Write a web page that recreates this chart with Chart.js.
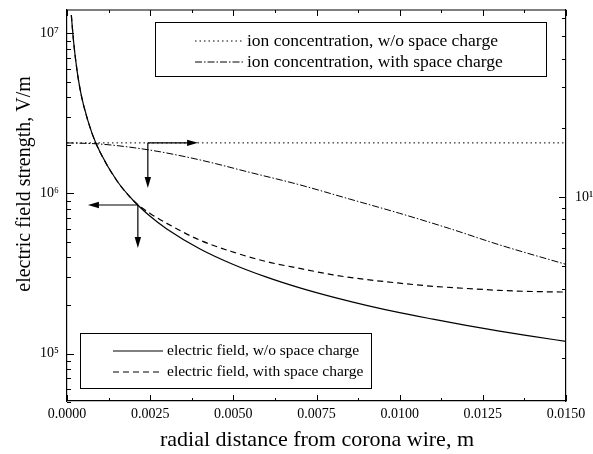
<!DOCTYPE html>
<html>
<head>
<meta charset="utf-8">
<script src="https://cdn.jsdelivr.net/npm/chart.js@4/dist/chart.umd.min.js"></script>
<style>
    html, body { margin: 0; padding: 0; background: #fff; }
</style>
</head>
<body>
<canvas id="fieldChart" width="593" height="454"></canvas>
<script>
// radial distance (m) and electric field (V/m)
const distE = [0.00013, 0.0002, 0.0003, 0.0004, 0.0005, 0.00075, 0.001, 0.0015, 0.002, 0.0025, 0.003,
               0.004, 0.005, 0.006, 0.007, 0.008, 0.009, 0.010, 0.011, 0.012, 0.013, 0.014, 0.015];
const fieldNoSC = [1.3e7, 8.8e6, 5.9e6, 4.4e6, 3.55e6, 2.38e6, 1.8e6, 1.2e6, 9.0e5, 7.2e5, 6.0e5,
                   4.5e5, 3.6e5, 3.0e5, 2.57e5, 2.25e5, 2.0e5, 1.8e5, 1.64e5, 1.5e5, 1.38e5, 1.28e5, 1.19e5];
const fieldSC = [1.3e7, 8.8e6, 5.9e6, 4.4e6, 3.55e6, 2.38e6, 1.8e6, 1.2e6, 9.0e5, 7.5e5, 6.5e5,
                 5.1e5, 4.3e5, 3.75e5, 3.4e5, 3.1e5, 2.9e5, 2.75e5, 2.63e5, 2.55e5, 2.48e5, 2.44e5, 2.42e5];

// ion concentration (right axis)
const distIonFlat = [0, 0.015];
const ionNoSC = [17.2, 17.2];
const distIon = [0, 0.001, 0.0025, 0.004, 0.0055, 0.007, 0.0085, 0.010, 0.0115, 0.013, 0.015];
const ionSC = [17.2, 17.0, 16.0, 14.5, 12.8, 11.3, 9.8, 8.5, 7.3, 6.2, 5.1];

// tick values
const xTickVals = [0, 0.00125, 0.0025, 0.00375, 0.005, 0.00625, 0.0075, 0.00875, 0.010, 0.01125, 0.0125, 0.01375, 0.015];
const xTickLabels = ["0.0000", "", "0.0025", "", "0.0050", "", "0.0075", "", "0.0100", "", "0.0125", "", "0.0150"];
const leftTickVals = [5e4, 6e4, 7e4, 8e4, 9e4, 1e5, 2e5, 3e5, 4e5, 5e5, 6e5, 7e5, 8e5, 9e5,
                      1e6, 2e6, 3e6, 4e6, 5e6, 6e6, 7e6, 8e6, 9e6, 1e7];
const leftTickLabels = {1e5: "10\u2075", 1e6: "10\u2076", 1e7: "10\u2077"};
const rightTickVals = [2, 3, 4, 5, 6, 7, 8, 9, 10, 20, 30, 40, 50, 60];
const rightTickLabels = {10: "10\u00B9"};

// arrows: [x0, y0, x1, y1] in data units of x / left axis
const arrows = [
    [0.00243, 2.07e6, 0.00394, 2.07e6],
    [0.00243, 2.07e6, 0.00243, 1.08e6],
    [0.00213, 8.47e5, 0.00063, 8.47e5],
    [0.00213, 8.47e5, 0.00213, 4.56e5]
];

const SERIF = "'Liberation Serif', 'Times New Roman', serif";
const pts = (xs, ys) => xs.map((x, i) => ({x, y: ys[i]}));

const line = (ctx, x0, y0, x1, y1) => {
    ctx.beginPath(); ctx.moveTo(x0, y0); ctx.lineTo(x1, y1); ctx.stroke();
};

function drawArrow(ctx, x0, y0, x1, y1) {
    const ang = Math.atan2(y1 - y0, x1 - x0);
    const L = 11, W = 3.2;
    const bx = x1 - L * Math.cos(ang), by = y1 - L * Math.sin(ang);
    line(ctx, x0, y0, bx, by);
    ctx.beginPath();
    ctx.moveTo(x1, y1);
    ctx.lineTo(bx - W * Math.sin(ang), by + W * Math.cos(ang));
    ctx.lineTo(bx + W * Math.sin(ang), by - W * Math.cos(ang));
    ctx.closePath();
    ctx.fill();
}

function legendBox(chart, box, fontSize, rows) {
    const ctx = chart.ctx;
    ctx.lineWidth = 1;
    ctx.setLineDash([]);
    ctx.strokeRect(box.x + 0.5, box.y + 0.5, box.w, box.h);
    ctx.font = `${fontSize}px ${SERIF}`;
    ctx.textBaseline = 'middle';
    ctx.textAlign = 'left';
    rows.forEach(r => {
        const ds = chart.data.datasets[r.ds];
        ctx.save();
        ctx.lineWidth = ds.borderWidth;
        ctx.setLineDash(ds.borderDash || []);
        line(ctx, r.x0, r.y, r.x1, r.y);
        ctx.restore();
        ctx.fillText(ds.label, r.x1 + 4, r.y);
    });
}

const noPad = s => { s.paddingTop = 0; s.paddingBottom = 0; s.paddingLeft = 0; s.paddingRight = 0; };

const decorations = {
    id: 'decorations',
    afterDraw(chart) {
        const {ctx, chartArea: a, scales} = chart;
        ctx.save();
        ctx.strokeStyle = '#000';
        ctx.fillStyle = '#000';
        ctx.lineWidth = 1.2;
        // top frame line
        line(ctx, a.left, a.top, a.right, a.top);

        // inward ticks
        ctx.lineWidth = 1;
        scales.x.ticks.forEach(t => {
            const px = Math.round(scales.x.getPixelForValue(t.value)) + 0.5;
            const len = t.label ? 6 : 3;
            line(ctx, px, a.bottom, px, a.bottom - len);
            line(ctx, px, a.top, px, a.top + len);
        });
        scales.y.ticks.forEach(t => {
            const py = Math.round(scales.y.getPixelForValue(t.value)) + 0.5;
            line(ctx, a.left, py, a.left + (t.label ? 7 : 4), py);
        });
        scales.y1.ticks.forEach(t => {
            const py = Math.round(scales.y1.getPixelForValue(t.value)) + 0.5;
            line(ctx, a.right, py, a.right - (t.label ? 7 : 4), py);
        });

        // arrows
        ctx.lineWidth = 1.2;
        arrows.forEach(([x0, y0, x1, y1]) => drawArrow(ctx,
            scales.x.getPixelForValue(x0), scales.y.getPixelForValue(y0),
            scales.x.getPixelForValue(x1), scales.y.getPixelForValue(y1)));

        // legends
        legendBox(chart, {x: 155, y: 22, w: 391, h: 54}, 17.5, [
            {ds: 2, x0: 195, x1: 243, y: 41},
            {ds: 3, x0: 195, x1: 243, y: 62}
        ]);
        legendBox(chart, {x: 80, y: 333, w: 291, h: 55}, 15.5, [
            {ds: 0, x0: 113, x1: 163, y: 351},
            {ds: 1, x0: 113, x1: 163, y: 372}
        ]);

        // axis titles
        ctx.textAlign = 'center';
        ctx.textBaseline = 'middle';
        ctx.font = `22px ${SERIF}`;
        ctx.fillText('radial distance from corona wire, m', 317, 440);
        ctx.save();
        ctx.translate(25, 184);
        ctx.rotate(-Math.PI / 2);
        ctx.font = `20px ${SERIF}`;
        ctx.fillText('electric field strength, V/m', 0, 0);
        ctx.restore();
        ctx.restore();
    }
};

const tickFont = {family: SERIF, size: 14};

new Chart(document.getElementById('fieldChart'), {
    type: 'line',
    data: {
        datasets: [
            {
                label: 'electric field, w/o space charge',
                data: pts(distE, fieldNoSC),
                yAxisID: 'y',
                borderColor: '#000',
                borderWidth: 1.2,
                pointRadius: 0,
                cubicInterpolationMode: 'monotone'
            },
            {
                label: 'electric field, with space charge',
                data: pts(distE, fieldSC),
                yAxisID: 'y',
                borderColor: '#000',
                borderWidth: 1.2,
                borderDash: [6, 4],
                pointRadius: 0,
                cubicInterpolationMode: 'monotone'
            },
            {
                label: 'ion concentration, w/o space charge',
                data: pts(distIonFlat, ionNoSC),
                yAxisID: 'y1',
                borderColor: '#000',
                borderWidth: 1,
                borderDash: [1.5, 3],
                pointRadius: 0
            },
            {
                label: 'ion concentration, with space charge',
                data: pts(distIon, ionSC),
                yAxisID: 'y1',
                borderColor: '#000',
                borderWidth: 1,
                borderDash: [7, 2, 1.5, 2],
                pointRadius: 0,
                cubicInterpolationMode: 'monotone'
            }
        ]
    },
    options: {
        responsive: false,
        animation: false,
        devicePixelRatio: 1,
        layout: {padding: {top: 10, left: 0, right: 0, bottom: 0}},
        plugins: {legend: {display: false}, tooltip: {enabled: false}},
        scales: {
            x: {
                type: 'linear',
                position: 'bottom',
                min: 0,
                max: 0.015,
                afterFit: s => { s.height = 53; noPad(s); },
                afterBuildTicks: s => { s.ticks = xTickVals.map(v => ({value: v})); },
                grid: {display: false, drawTicks: false},
                border: {display: true, color: '#000', width: 1.2},
                ticks: {
                    autoSkip: false, maxRotation: 0, padding: 5, color: '#000', font: tickFont,
                    callback: (v, i) => xTickLabels[i]
                }
            },
            y: {
                type: 'logarithmic',
                position: 'left',
                min: 5.05e4,
                max: 1.4e7,
                afterFit: s => { s.width = 67; noPad(s); },
                afterBuildTicks: s => { s.ticks = leftTickVals.map(v => ({value: v})); },
                grid: {display: false, drawTicks: false},
                border: {display: true, color: '#000', width: 1.2},
                ticks: {
                    autoSkip: false, padding: 8, color: '#000', font: {family: SERIF, size: 14},
                    callback: v => leftTickLabels[v] || ''
                }
            },
            y1: {
                type: 'logarithmic',
                position: 'right',
                min: 1.3,
                max: 65,
                afterFit: s => { s.width = 27; noPad(s); },
                afterBuildTicks: s => { s.ticks = rightTickVals.map(v => ({value: v})); },
                grid: {display: false, drawTicks: false},
                border: {display: true, color: '#000', width: 1.2},
                ticks: {
                    autoSkip: false, padding: 9, color: '#000', font: {family: SERIF, size: 14},
                    callback: v => rightTickLabels[v] || ''
                }
            }
        }
    },
    plugins: [decorations]
});
</script>
</body>
</html>
